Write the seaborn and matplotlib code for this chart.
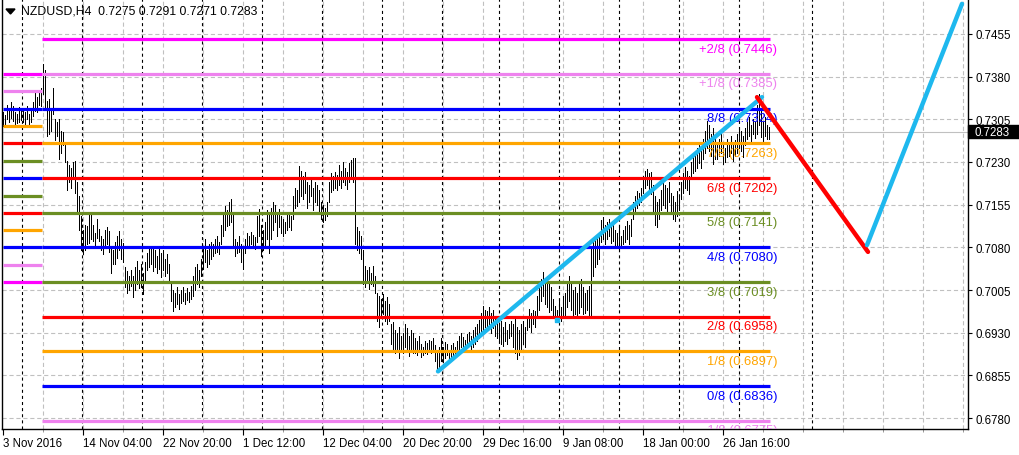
import numpy as np
import matplotlib
matplotlib.use("Agg")
import matplotlib.pyplot as plt
import matplotlib.transforms as mtransforms
from matplotlib.patches import Polygon, Rectangle
import seaborn as sns

symbol = "NZDUSD,H4"
last_ohlc = [0.7275, 0.7291, 0.7271, 0.7283]

# H4 bars, highs and lows in pips (price * 10000), read left to right off the chart
highs = [
    7318, 7312, 7330, 7322, 7335, 7328, 7318, 7315, 7326, 7320,
    7325, 7318, 7328, 7315, 7320, 7335, 7352, 7345, 7355, 7360,
    7402, 7392, 7337, 7340, 7325, 7360, 7305, 7300, 7306, 7285,
    7282, 7262, 7232, 7225, 7220, 7230, 7232, 7195, 7170, 7135,
    7110, 7120, 7118, 7139, 7139, 7120, 7105, 7130, 7112, 7100,
    7095, 7110, 7116, 7108, 7080, 7075, 7090, 7100, 7109, 7095,
    7088, 7045, 7038, 7030, 7040, 7030, 7045, 7056, 7040, 7050,
    7035, 7055, 7070, 7082, 7078, 7080, 7075, 7065, 7080, 7070,
    7075, 7060, 7068, 7050, 7016, 7005, 7000, 7010, 6998, 7005,
    7010, 7000, 7008, 7002, 7012, 7030, 7045, 7051, 7040, 7060,
    7080, 7095, 7075, 7085, 7090, 7085, 7095, 7100, 7090, 7120,
    7140, 7152, 7145, 7160, 7165, 7140, 7095, 7090, 7100, 7085,
    7080, 7095, 7105, 7100, 7107, 7102, 7098, 7135, 7147, 7120,
    7110, 7125, 7145, 7140, 7150, 7160, 7155, 7140, 7148, 7135,
    7130, 7125, 7140, 7142, 7135, 7170, 7185, 7180, 7223, 7215,
    7205, 7212, 7195, 7190, 7200, 7185, 7195, 7190, 7180, 7160,
    7155, 7150, 7160, 7195, 7210, 7205, 7212, 7208, 7225, 7215,
    7230, 7220, 7212, 7228, 7233, 7237, 7237, 7115, 7108, 7100,
    7075, 7047, 7040, 7045, 7035, 7047, 7030, 7000, 6995, 6990,
    6998, 6985, 6992, 6980, 6945, 6949, 6935, 6930, 6940, 6925,
    6930, 6945, 6938, 6925, 6935, 6930, 6920, 6915, 6925, 6910,
    6905, 6915, 6912, 6918, 6915, 6920, 6908, 6895, 6905, 6920,
    6905, 6914, 6910, 6900, 6908, 6912, 6905, 6915, 6925, 6930,
    6922, 6918, 6928, 6931, 6925, 6935, 6940, 6945, 6952, 6965,
    6977, 6970, 6968, 6975, 6965, 6970, 6960, 6955, 6945, 6950,
    6940, 6948, 6935, 6945, 6950, 6945, 6954, 6940, 6935, 6945,
    6950, 6940, 6960, 6972, 6965, 6970, 6968, 6995, 7010, 7025,
    7037, 7020, 7030, 7015, 7010, 6990, 6977, 6970, 6985, 6975,
    6995, 7000, 7020, 7030, 7015, 7005, 7010, 7000, 7015, 7025,
    7010, 7000, 7005, 7012, 7078, 7090, 7100, 7095, 7105, 7128,
    7133, 7120, 7125, 7130, 7115, 7120, 7110, 7105, 7115, 7100,
    7110, 7118, 7126, 7120, 7130, 7160, 7170, 7179, 7175, 7185,
    7205, 7215, 7218, 7210, 7212, 7190, 7170, 7160, 7165, 7180,
    7197, 7190, 7185, 7195, 7175, 7170, 7160, 7179, 7170, 7195,
    7210, 7221, 7215, 7205, 7230, 7245, 7240, 7255, 7262, 7250,
    7270, 7285, 7302, 7295, 7280, 7290, 7275, 7265, 7270, 7279,
    7260, 7255, 7270, 7265, 7275, 7262, 7268, 7280, 7292, 7285,
    7275, 7290, 7300, 7309, 7295, 7305, 7300, 7330, 7350, 7320,
    7300, 7309, 7295, 7291,
]
lows = [
    7293, 7296, 7305, 7300, 7308, 7302, 7295, 7298, 7300, 7303,
    7300, 7297, 7305, 7296, 7300, 7310, 7320, 7318, 7330, 7328,
    7350, 7322, 7275, 7280, 7285, 7315, 7268, 7275, 7236, 7245,
    7260, 7230, 7180, 7195, 7185, 7200, 7175, 7140, 7110, 7075,
    7068, 7075, 7085, 7088, 7095, 7092, 7080, 7096, 7091, 7075,
    7068, 7078, 7085, 7072, 7035, 7050, 7051, 7062, 7075, 7060,
    7055, 7010, 7000, 7005, 7012, 6993, 7005, 7015, 7008, 7010,
    6998, 7020, 7040, 7045, 7050, 7038, 7045, 7035, 7042, 7028,
    7040, 7030, 7035, 7020, 6985, 6968, 6975, 6980, 6972, 6982,
    6985, 6980, 6988, 6984, 6990, 6995, 7005, 7015, 7010, 7030,
    7042, 7055, 7045, 7050, 7060, 7065, 7070, 7072, 7068, 7085,
    7100, 7110, 7118, 7120, 7125, 7080, 7065, 7070, 7072, 7055,
    7042, 7070, 7080, 7078, 7085, 7080, 7077, 7090, 7100, 7065,
    7075, 7078, 7095, 7070, 7095, 7110, 7125, 7100, 7115, 7105,
    7100, 7105, 7110, 7115, 7110, 7130, 7150, 7153, 7160, 7170,
    7165, 7175, 7150, 7160, 7170, 7145, 7160, 7155, 7142, 7130,
    7124, 7128, 7135, 7160, 7177, 7180, 7185, 7180, 7190, 7185,
    7195, 7190, 7183, 7195, 7200, 7195, 7085, 7075, 7070, 7060,
    7015, 7010, 7020, 7007, 7015, 7012, 7000, 6950, 6940, 6955,
    6962, 6950, 6945, 6950, 6910, 6900, 6895, 6898, 6885, 6900,
    6895, 6905, 6900, 6889, 6902, 6895, 6895, 6890, 6898, 6888,
    6890, 6895, 6893, 6896, 6894, 6896, 6880, 6862, 6870, 6880,
    6878, 6885, 6890, 6880, 6885, 6890, 6888, 6896, 6898, 6905,
    6900, 6898, 6905, 6910, 6902, 6905, 6910, 6915, 6920, 6930,
    6935, 6940, 6935, 6945, 6930, 6938, 6924, 6920, 6915, 6910,
    6907, 6915, 6910, 6920, 6925, 6905, 6895, 6884, 6890, 6900,
    6910, 6905, 6935, 6940, 6931, 6945, 6940, 6960, 6970, 6985,
    6995, 6980, 6975, 6966, 6970, 6955, 6949, 6952, 6955, 6950,
    6958, 6960, 6975, 6985, 6970, 6960, 6962, 6959, 6965, 6975,
    6962, 6965, 6970, 6958, 6960, 7030, 7045, 7050, 7060, 7090,
    7095, 7086, 7095, 7100, 7088, 7092, 7080, 7080, 7074, 7080,
    7085, 7090, 7095, 7085, 7100, 7130, 7144, 7150, 7155, 7160,
    7175, 7185, 7190, 7180, 7174, 7140, 7120, 7116, 7130, 7145,
    7155, 7150, 7144, 7160, 7140, 7130, 7126, 7135, 7145, 7165,
    7175, 7185, 7180, 7174, 7200, 7210, 7215, 7220, 7228, 7220,
    7235, 7245, 7255, 7250, 7240, 7226, 7235, 7235, 7240, 7245,
    7226, 7230, 7238, 7240, 7245, 7232, 7240, 7245, 7255, 7250,
    7239, 7260, 7270, 7275, 7267, 7280, 7272, 7280, 7295, 7274,
    7267, 7275, 7270, 7271,
]

date_ticks = [0, 40, 80, 120, 160, 200, 240, 280, 320, 360]
date_labels = ["3 Nov 2016", "14 Nov 04:00", "22 Nov 20:00", "1 Dec 12:00",
               "12 Dec 04:00", "20 Dec 20:00", "29 Dec 16:00", "9 Jan 08:00",
               "18 Jan 00:00", "26 Jan 16:00"]
week_seps = [9.5, 39.5, 69.5, 99.5, 129.5, 159.5, 189.5, 219.5, 248, 278,
             308, 338, 368, 404.5]
price_ticks = [0.6780, 0.6855, 0.6930, 0.7005, 0.7080, 0.7155, 0.7230,
               0.7305, 0.7380, 0.7455]

# current Murrey Math lines
level_names = ["+2/8", "+1/8", "8/8", "7/8", "6/8", "5/8", "4/8", "3/8",
               "2/8", "1/8", "0/8", "-1/8"]
level_values = [0.7446, 0.7385, 0.7324, 0.7263, 0.7202, 0.7141, 0.7080,
                0.7019, 0.6958, 0.6897, 0.6836, 0.6775]
level_colors = ["#FF00FF", "#EE82EE", "#0000FF", "#FFA500", "#FF0000",
                "#6B8E23", "#0000FF", "#6B8E23", "#FF0000", "#FFA500",
                "#0000FF", "#EE82EE"]
# previous period levels (short stubs on the left)
old_values = [0.7385, 0.7354, 0.7324, 0.7293, 0.7263, 0.7232, 0.7202,
              0.7171, 0.7141, 0.7110, 0.7080, 0.7049, 0.7019]
old_colors = ["#FF00FF", "#EE82EE", "#0000FF", "#FFA500", "#FF0000",
              "#6B8E23", "#0000FF", "#6B8E23", "#FF0000", "#FFA500",
              "#0000FF", "#EE82EE", "#FF00FF"]

# trend line and projection
trend_x = [217.5, 379.5]
trend_y = [0.6862, 0.7344]
down_x = [377, 432.5]
down_y = [0.7344, 0.7072]
up_x = [432, 479.5]
up_y = [0.7084, 0.7508]
dot_x = [277]
dot_y = [0.6952]

sns.set_style("white")
plt.rcParams["font.family"] = ["Liberation Sans", "DejaVu Sans"]
plt.rcParams["lines.scale_dashes"] = False

fig = plt.figure(figsize=(10.2, 4.56), dpi=100)
ax = fig.add_axes([2 / 1020, 26 / 456, 966 / 1020, 430 / 456])
ax.set_xlim(-0.5, 482.5)
ax.set_ylim(0.67607, 0.75165)

grid_kw = dict(color="#C0C0C0", lw=0.8, ls=(0, (3, 2)))
for p in price_ticks:
    ax.axhline(p, zorder=0, **grid_kw)
for gx in range(20, 481, 20):
    ax.axvline(gx, zorder=0, **grid_kw)
for s in week_seps:
    ax.axvline(s, color="black", lw=0.8, ls=(0, (2.2, 2.2)), zorder=1)

ax.axhline(last_ohlc[3], color="#C0C0C0", lw=0.8, zorder=1)

bar_x = np.arange(len(highs))
ax.vlines(bar_x, np.array(lows) / 10000, np.array(highs) / 10000,
          colors="black", lw=0.72, antialiased=False, zorder=2)

for v, c in zip(old_values, old_colors):
    ax.plot([-0.2, 19.5], [v, v], color=c, lw=2.3, solid_capstyle="butt", zorder=3)

for name, v, c in zip(level_names, level_values, level_colors):
    ax.plot([19.5, 383.5], [v, v], color=c, lw=2.3, solid_capstyle="butt", zorder=3)
    ax.annotate(f"{name} ({v:.4f})", (387.2, v), xytext=(0, -2.6),
                textcoords="offset points", ha="right", va="top",
                color=c, fontsize=9.4, clip_on=True, annotation_clip=False,
                zorder=4)

sns.lineplot(x=trend_x, y=trend_y, ax=ax, color="#1EB8EE", lw=3.2, zorder=5)
sns.lineplot(x=down_x, y=down_y, ax=ax, color="#FF0000", lw=3.2, zorder=5)
sns.lineplot(x=up_x, y=up_y, ax=ax, color="#1EB8EE", lw=3.2, zorder=5)
ax.plot(dot_x, dot_y, "s", color="#1EB8EE", ms=2.5, zorder=5)

# axes
for side in ["left", "right", "bottom"]:
    ax.spines[side].set_color("black")
    ax.spines[side].set_linewidth(1.0)
ax.spines["top"].set_visible(False)

ax.yaxis.tick_right()
ax.set_yticks(price_ticks)
ax.set_yticklabels([f"{p:.4f}" for p in price_ticks])
ax.tick_params(axis="y", which="major", direction="out", length=3, width=0.8,
               pad=2.5, labelsize=8.3, colors="black", right=True, left=False)
ax.set_xticks(date_ticks)
ax.set_xticklabels(date_labels)
ax.set_xticks([t for t in range(20, 481, 20) if t not in date_ticks], minor=True)
ax.tick_params(axis="x", which="major", direction="out", length=4, width=0.8,
               pad=1.5, labelsize=8.3, colors="black", bottom=True)
ax.tick_params(axis="x", which="minor", direction="out", length=2, width=0.6,
               colors="#888888", bottom=True)
for lab in ax.get_xticklabels():
    lab.set_horizontalalignment("left")

# current price tag
trans = mtransforms.blended_transform_factory(ax.transAxes, ax.transData)
ax.add_patch(Rectangle((1.0, last_ohlc[3] - 0.00115), 0.06, 0.0023,
                       transform=trans, clip_on=False, color="black", zorder=10))
ax.text(1.0 + 7 / 966, last_ohlc[3], f"{last_ohlc[3]:.4f}", transform=trans,
        color="white", fontsize=8.3, va="center", ha="left", zorder=11,
        clip_on=False)

# header
fig.patches.append(Polygon([[6 / 1020, 1 - 10 / 456], [15 / 1020, 1 - 10 / 456],
                            [10.5 / 1020, 1 - 15 / 456]], closed=True,
                           transform=fig.transFigure, color="black"))
fig.text(21 / 1020, 1 - 12 / 456,
         symbol + "  " + " ".join(f"{v:.4f}" for v in last_ohlc),
         fontsize=8.8, va="center", ha="left", color="black")

fig.savefig("out.png", dpi=100, facecolor="white")
